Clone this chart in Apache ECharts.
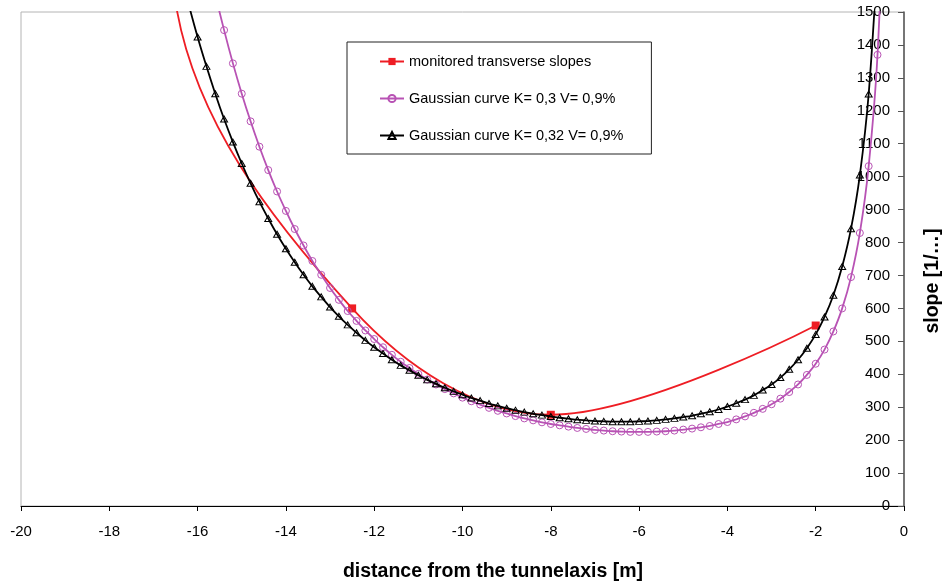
<!DOCTYPE html>
<html>
<head>
<meta charset="utf-8">
<script src="https://cdn.jsdelivr.net/npm/echarts@6/dist/echarts.min.js"></script>
<style>
html,body{margin:0;padding:0;background:#fff;}
#c{width:946px;height:584px;}
</style>
</head>
<body>
<div id="c"></div>
<script>
// ---- data ----
const X_MIN = -20, X_MAX = 0, X_STEP = 2;
const Y_MIN = 0, Y_MAX = 1500, Y_STEP = 100;

const seriesNames = [
  'monitored transverse slopes',
  'Gaussian curve K= 0,3 V= 0,9%',
  'Gaussian curve K= 0,32 V= 0,9%'
];

// monitored values (the first two lie above the plot; only their line enters it)
const redX = [-16.8, -16.5, -12.5, -8, -2];
const redY = [2300, 1530, 600, 277, 548];

// Gaussian curve K=0,3
const purpleX = [-15.8,-15.6,-15.4,-15.2,-15.0,-14.8,-14.6,-14.4,-14.2,-14.0,-13.8,-13.6,-13.4,-13.2,-13.0,-12.8,-12.6,-12.4,-12.2,-12.0,-11.8,-11.6,-11.4,-11.2,-11.0,-10.8,-10.6,-10.4,-10.2,-10.0,-9.8,-9.6,-9.4,-9.2,-9.0,-8.8,-8.6,-8.4,-8.2,-8.0,-7.8,-7.6,-7.4,-7.2,-7.0,-6.8,-6.6,-6.4,-6.2,-6.0,-5.8,-5.6,-5.4,-5.2,-5.0,-4.8,-4.6,-4.4,-4.2,-4.0,-3.8,-3.6,-3.4,-3.2,-3.0,-2.8,-2.6,-2.4,-2.2,-2.0,-1.8,-1.6,-1.4,-1.2,-1.0,-0.8,-0.6,-0.4];
const purpleY = [1675,1554,1445,1344,1252,1168,1091,1020,955,896,841,791,744,702,662,626,592,562,533,507,482,459,438,419,401,384,369,355,342,329,318,308,298,289,281,273,266,260,254,249,245,241,237,234,231,229,227,226,225,225,225,226,227,229,232,235,239,243,249,255,263,272,283,295,309,326,346,369,398,432,475,530,600,695,829,1032,1370,2050];

// Gaussian curve K=0,32
const blackX = [-16.4,-16.2,-16.0,-15.8,-15.6,-15.4,-15.2,-15.0,-14.8,-14.6,-14.4,-14.2,-14.0,-13.8,-13.6,-13.4,-13.2,-13.0,-12.8,-12.6,-12.4,-12.2,-12.0,-11.8,-11.6,-11.4,-11.2,-11.0,-10.8,-10.6,-10.4,-10.2,-10.0,-9.8,-9.6,-9.4,-9.2,-9.0,-8.8,-8.6,-8.4,-8.2,-8.0,-7.8,-7.6,-7.4,-7.2,-7.0,-6.8,-6.6,-6.4,-6.2,-6.0,-5.8,-5.6,-5.4,-5.2,-5.0,-4.8,-4.6,-4.4,-4.2,-4.0,-3.8,-3.6,-3.4,-3.2,-3.0,-2.8,-2.6,-2.4,-2.2,-2.0,-1.8,-1.6,-1.4,-1.2,-1.0,-0.8,-0.6];
const blackY = [1628,1522,1424,1335,1252,1175,1105,1040,980,924,873,825,781,740,702,667,635,604,576,550,526,503,482,463,444,427,412,397,383,371,359,348,338,328,320,311,304,297,291,285,280,276,272,268,265,262,260,258,257,256,256,256,257,258,260,263,266,270,274,280,286,293,302,312,323,336,352,369,390,415,444,479,521,574,640,727,842,1005,1251,1662];

const xTitle = 'distance from the tunnelaxis [m]';
const yTitle = 'slope [1/…]';

// ---- chart ----
const FONT = '"Liberation Sans", Arial, sans-serif';
const RED = '#ee1d24';
const PURPLE = '#b852b4';
const BLACK = '#000000';

function pairs(xs, ys) { return xs.map((x, i) => [x, ys[i]]); }

const chart = echarts.init(document.getElementById('c'), null, {renderer: 'canvas'});
chart.setOption({
  animation: false,
  backgroundColor: '#ffffff',
  grid: {left: 21, right: 42, top: 12, bottom: 78, show: true, borderColor: '#b4b4b4', borderWidth: 1},
  legend: {
    orient: 'vertical', left: 347, top: 42,
    padding: [12, 28, 11, 32],
    itemGap: 22, itemWidth: 24, itemHeight: 9,
    borderColor: '#222', borderWidth: 1,
    textStyle: {fontSize: 14.5, color: '#000', fontFamily: FONT},
    data: seriesNames
  },
  xAxis: {
    type: 'value', min: X_MIN, max: X_MAX, interval: X_STEP,
    axisLine: {show: true, onZero: false, lineStyle: {color: '#000', width: 1}},
    axisTick: {show: true, length: 5, lineStyle: {color: '#000'}},
    axisLabel: {fontSize: 15, color: '#000', fontFamily: FONT, margin: 18},
    splitLine: {show: false}
  },
  yAxis: {
    type: 'value', position: 'right', min: Y_MIN, max: Y_MAX, interval: Y_STEP,
    axisLine: {show: true, onZero: false, lineStyle: {color: '#555', width: 1.5}},
    axisTick: {show: true, inside: true, length: 6, lineStyle: {color: '#555'}},
    axisLabel: {inside: true, fontSize: 15, color: '#000', fontFamily: FONT, margin: 14,
      formatter: function (v) { return String(v); }},
    splitLine: {show: false}
  },
  graphic: [
    {type: 'text', x: 493, y: 572, style: {text: xTitle, fontSize: 19.5, fontWeight: 'bold', fontFamily: FONT, fill: '#000', align: 'center', verticalAlign: 'middle'}},
    {type: 'text', x: 933, y: 281, rotation: Math.PI / 2, style: {text: yTitle, fontSize: 19.5, fontWeight: 'bold', fontFamily: FONT, fill: '#000', align: 'center', verticalAlign: 'middle'}}
  ],
  series: [
    {
      name: seriesNames[0], type: 'line', data: pairs(redX, redY),
      smooth: 0.36, symbol: 'rect', symbolSize: 8, showAllSymbol: true,
      lineStyle: {color: RED, width: 1.8}, itemStyle: {color: RED}, z: 2
    },
    {
      name: seriesNames[1], type: 'line', data: pairs(purpleX, purpleY),
      smooth: 0.3, symbol: 'circle', symbolSize: 7, showAllSymbol: true,
      lineStyle: {color: PURPLE, width: 1.8},
      itemStyle: {color: 'rgba(255,255,255,0)', borderColor: PURPLE, borderWidth: 1}, z: 3
    },
    {
      name: seriesNames[2], type: 'line', data: pairs(blackX, blackY),
      smooth: 0.3, symbol: 'triangle', symbolSize: [7, 6], showAllSymbol: true,
      lineStyle: {color: BLACK, width: 1.8},
      itemStyle: {color: 'rgba(255,255,255,0)', borderColor: BLACK, borderWidth: 1}, z: 4
    }
  ]
});
</script>
</body>
</html>
